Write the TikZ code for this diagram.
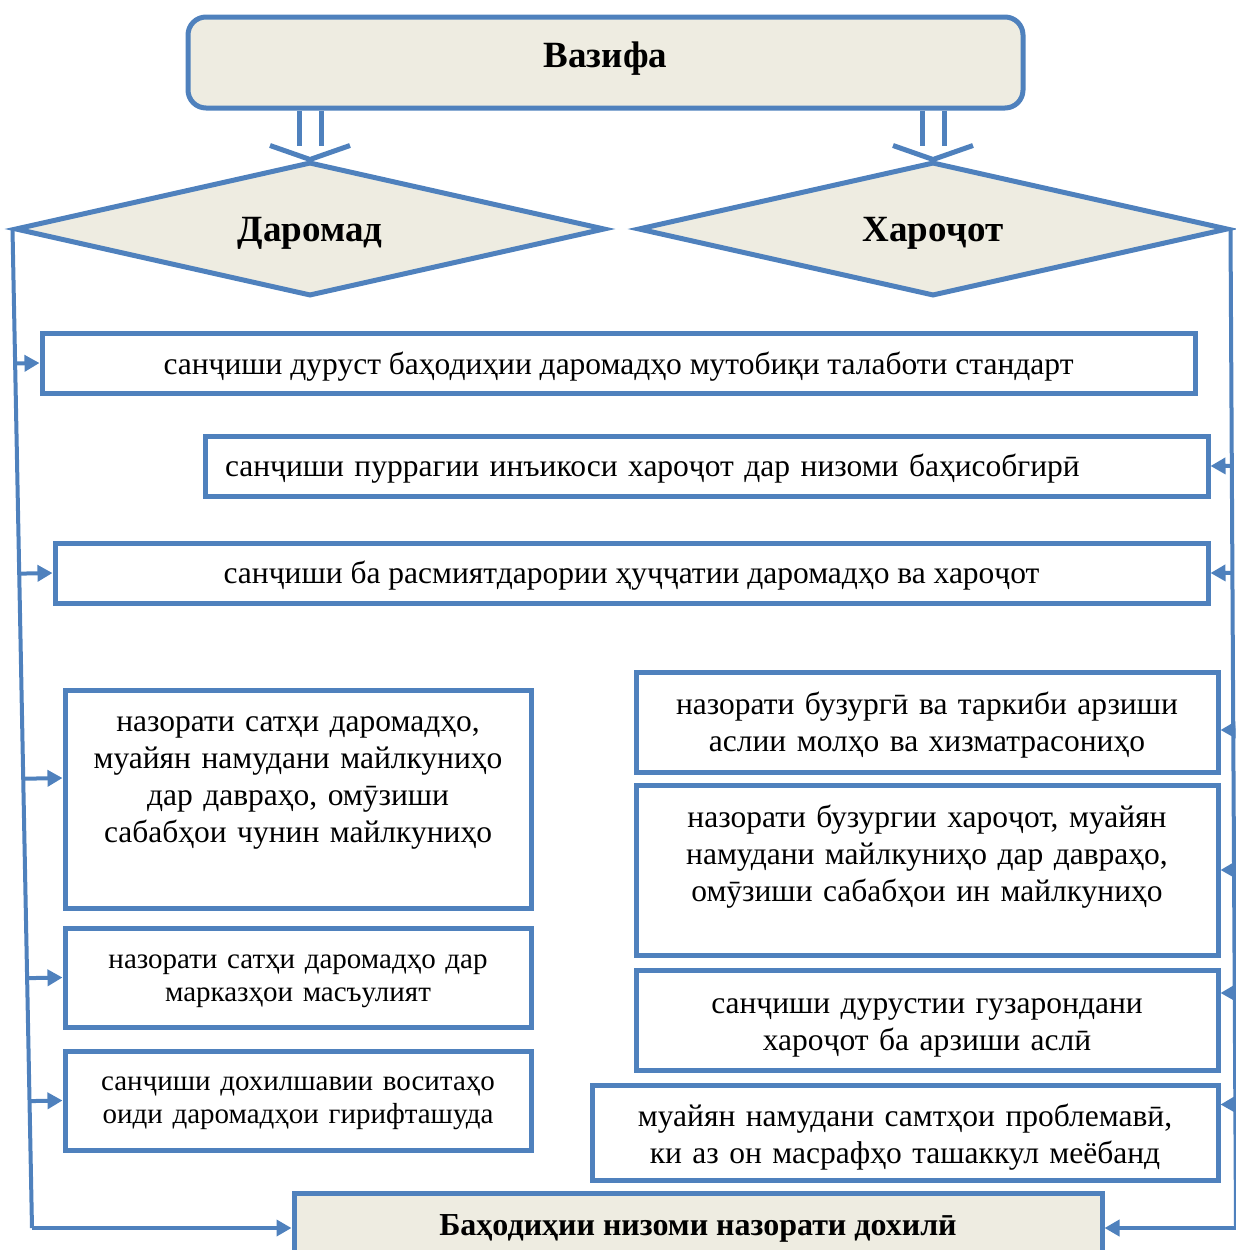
\documentclass[tikz,border=0pt]{standalone}
\usepackage{fontspec}
\setmainfont{Liberation Serif}
\usetikzlibrary{positioning}
\usetikzlibrary{arrows.meta, shapes.geometric, calc}
\definecolor{frameblue}{HTML}{4F81BD}
\definecolor{paperfill}{HTML}{EEECE1}

\begin{document}
\begin{tikzpicture}[x=1pt, y=-1pt, >={Triangle[length=15pt,width=16pt]}, font=\fontsize{31.5}{37}\selectfont]%

            \tikzstyle{head} = [ rectangle, rounded corners=18pt, line width=5pt, draw=frameblue, fill=paperfill, minimum width=835pt, minimum height=91pt, font=\fontsize{37}{40}\selectfont\bfseries]
            \tikzstyle{kind} = [ diamond, aspect=4.4, line width=5pt, draw=frameblue, fill=paperfill, minimum width=590pt, minimum height=134pt, inner sep=0pt, text height=32pt, text depth=8pt, font=\fontsize{37}{40}\selectfont\bfseries]
            \tikzstyle{task} = [ rectangle, line width=5pt, draw=frameblue, fill=white, inner sep=0pt, align=center]
            \tikzstyle{smalltext} = [ font=\fontsize{29}{33.5}\selectfont]
            \tikzstyle{wire} = [ line width=4pt, draw=frameblue]
            \tikzstyle{post} = [ wire, ->]
            \tikzstyle{fork} = [ line width=5pt, draw=frameblue]
        %%
            \useasboundingbox (0,0) rectangle (1235,1250);

            %% Task and its two sides
            \node [head, text depth=16pt] (vazifa) at (605.5,62.5) {Вазифа};
            \node [kind] (daromad) at (310,229) {Даромад};
            \node [kind] (harojot) at (933,229) {Хароҷот};

            \foreach \kid in {daromad, harojot} {
                \draw [fork] ([xshift=-11pt]\kid.north |- vazifa.south) -- ([shift={(-11pt,14pt)}]\kid.north);
                \draw [fork] ([xshift=11pt]\kid.north |- vazifa.south) -- ([shift={(11pt,14pt)}]\kid.north);
                \draw [fork] ([shift={(-40pt,14pt)}]\kid.north) -- (\kid.north) -- ([shift={(40pt,14pt)}]\kid.north);
            }

            %% Common checks
            \node [task, minimum width=1153pt, text height=41pt, text depth=19pt] (b1) at (618.5,363) {санҷиши дуруст баҳодиҳии даромадҳо мутобиқи талаботи стандарт};
            \node [task, minimum width=1003pt, text width=963pt, align=left, text height=40pt, text depth=20pt] (b2) at (706.5,466) {санҷиши пуррагии инъикоси хароҷот дар низоми баҳисобгирӣ};
            \node [task, minimum width=1153pt, text height=40pt, text depth=20pt] (b3) at (631.5,573) {санҷиши ба расмиятдарории ҳуҷҷатии даромадҳо ва хароҷот};

            %% Income side
            \node [task, text width=466pt, text height=41pt, text depth=177pt] (l1) at (298,799) {назорати сатҳи даромадҳо,\\муайян намудани майлкуниҳо\\дар давраҳо, омӯзиши\\сабабҳои чунин майлкуниҳо};
            \node [task, smalltext, text width=466pt, text height=40pt, text depth=59pt] (l2) [below=15pt of l1] {назорати сатҳи даромадҳо дар\\марказҳои масъулият};
            \node [task, smalltext, text width=466pt, text height=39pt, text depth=60pt] (l3) [below=19pt of l2] {санҷиши дохилшавии воситаҳо\\оиди даромадҳои гирифташуда};

            %% Expense side
            \node [task, text width=582pt, text height=42pt, text depth=58pt] (r1) at (927,722) {назорати бузургӣ ва таркиби арзиши\\аслии молҳо ва хизматрасониҳо};
            \node [task, text width=582pt, text height=42pt, text depth=128pt] (r2) [below=8pt of r1] {назорати бузургии хароҷот, муайян\\намудани майлкуниҳо дар давраҳо,\\омӯзиши сабабҳои ин майлкуниҳо};
            \node [task, text width=582pt, text height=43pt, text depth=57pt] (r3) [below=10pt of r2] {санҷиши дурустии гузарондани\\хароҷот ба арзиши аслӣ};
            \node [task, text width=626pt, text height=41pt, text depth=54pt] (r4) [below=10pt of r3.south east, anchor=north east] {муайян намудани самтҳои проблемавӣ,\\ки аз он масрафҳо ташаккул меёбанд};

            %% Result
            \node [task, fill=paperfill, minimum width=808pt, minimum height=70pt, font=\fontsize{32}{37}\selectfont\bfseries] (natija) at (698,1228) {Баҳодиҳии низоми назорати дохилӣ};

            %% Rails
            \coordinate (lbot) at (32,1228);
            \coordinate (rbot) at (1236,1228);
            \draw [wire] (daromad.west) -- (lbot);
            \draw [wire] (harojot.east) -- (rbot);
            \draw [post] (lbot) -- (natija.west);
            \draw [post] (rbot) -- (natija.east);

            \foreach \blk/\dy in {b1/0, b3/0, l1/21, l2/0, l3/0}
                \draw [post] ($(daromad.west)!([yshift=\dy pt]\blk.west)!(lbot)$) -- ([yshift=\dy pt]\blk.west);
            \foreach \blk/\dy in {b2/0, b3/0, r1/-8, r2/0, r3/27, r4/28}
                \draw [post] ($(harojot.east)!([yshift=\dy pt]\blk.east)!(rbot)$) -- ([yshift=\dy pt]\blk.east);

\end{tikzpicture}
\end{document}
